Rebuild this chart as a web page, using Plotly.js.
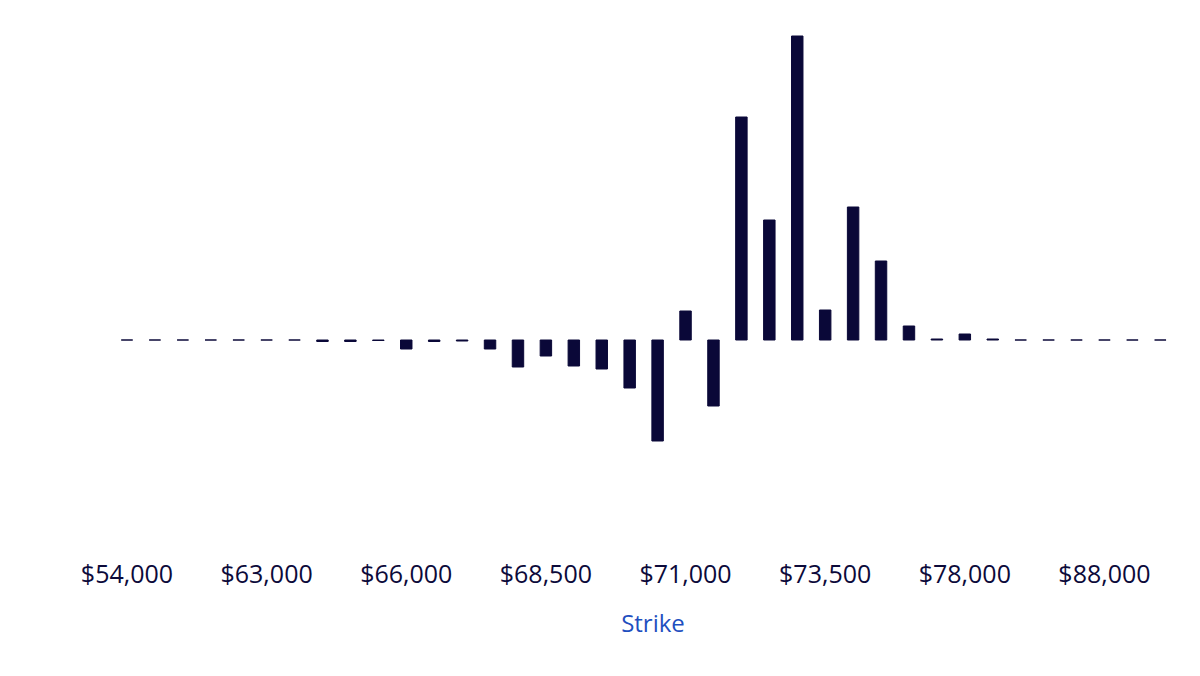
<!DOCTYPE html>
<html>
<head>
<meta charset="utf-8">
<script src="https://cdn.plot.ly/plotly-3.0.1.min.js"></script>
<style>
  html, body { margin: 0; padding: 0; background: #ffffff; }
  #chart { width: 1200px; height: 676px; }
</style>
</head>
<body>
<div id="chart"></div>
<script>
  // strikes (only every fifth one is labelled on the axis)
  var strikes = [
    54000, 56000, 58000, 60000, 62000, 63000, 64000, 64500, 65000, 65500,
    66000, 66500, 67000, 67500, 68000, 68500, 69000, 69500, 70000, 70500,
    71000, 71500, 72000, 72500, 73000, 73500, 74000, 75000, 76000, 77000,
    78000, 80000, 82000, 84000, 86000, 88000, 90000, 95000
  ];
  // net exposure per strike
  var exposure = [
    0, 0, 0, 0, 0, 0, 0, -1.5, -1.5, -0.5,
    -9, -1.5, -1, -9, -27, -16, -26, -29, -48, -101,
    29, -66, 223, 120, 304, 30, 133, 79, 14, 1,
    6, 1, 0, 0, 0, 0, 0, 0
  ];
  var shownTicks = ["$54,000", "$63,000", "$66,000", "$68,500", "$71,000", "$73,500", "$78,000", "$88,000"];

  var labels = strikes.map(function (s) { return "$" + s.toLocaleString("en-US"); });

  var navy = "#0a0838";

  var data = [{
    type: "bar",
    x: labels,
    y: exposure,
    marker: { color: navy, line: { color: navy, width: 1 } },
    hoverinfo: "x+y"
  }];

  var layout = {
    width: 1200,
    height: 676,
    margin: { l: 113, r: 7, t: 20, b: 136 },
    paper_bgcolor: "#ffffff",
    plot_bgcolor: "#ffffff",
    showlegend: false,
    bargap: 0.59,
    xaxis: {
      type: "category",
      range: [-0.5, 38.17],
      tickmode: "array",
      tickvals: shownTicks,
      ticktext: shownTicks,
      ticks: "",
      ticklabelstandoff: 17,
      showgrid: false,
      showline: false,
      zeroline: false,
      tickfont: { family: "Open Sans, sans-serif", size: 25, color: "#0c0a3a" },
      title: {
        text: "Strike",
        standoff: 26,
        font: { family: "Open Sans, sans-serif", size: 24, color: "#1f4fbf" }
      }
    },
    yaxis: {
      range: [-200, 320],
      showticklabels: false,
      ticks: "",
      showgrid: false,
      showline: false,
      zeroline: false
    }
  };

  Plotly.newPlot("chart", data, layout, { displayModeBar: false, staticPlot: true });
</script>
</body>
</html>
